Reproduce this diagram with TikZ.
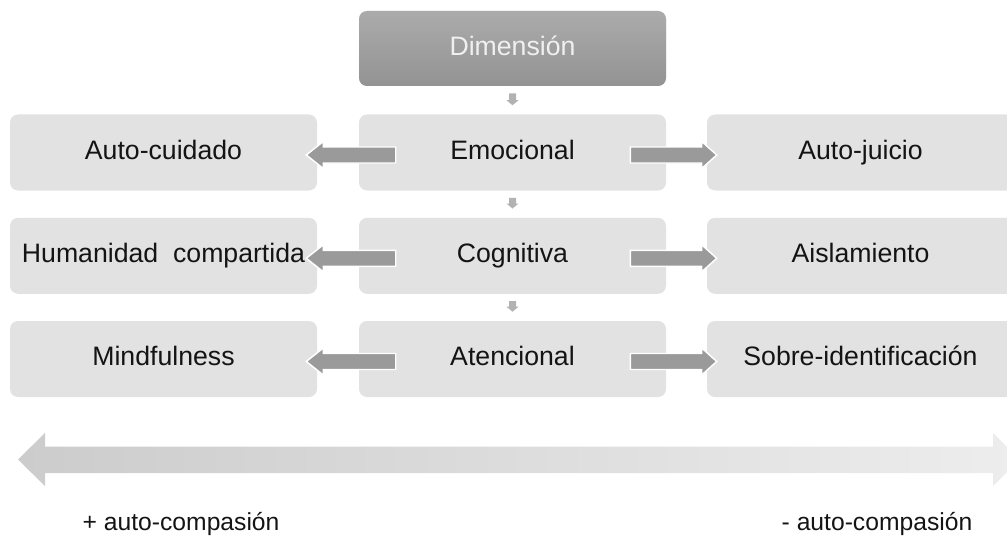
\documentclass[tikz,border=0pt]{standalone}
\usepackage{fontspec}
\setmainfont{Liberation Sans}
\usetikzlibrary{calc}
\definecolor{boxgray}{HTML}{E2E2E2}
\definecolor{headtop}{HTML}{ABABAB}
\definecolor{headbot}{HTML}{939393}
\definecolor{arrowgray}{HTML}{9A9A9A}
\definecolor{smallgray}{HTML}{B2B2B2}
\definecolor{textdark}{HTML}{141414}
\begin{document}
\begin{tikzpicture}[x=0.75pt,y=-0.75pt,
  cell/.style={fill=boxgray, rounded corners=6pt, minimum width=230.25pt,
    minimum height=57pt, inner sep=0pt, text=textdark,
    text height=14.6pt, text depth=4.2pt,
    font=\fontsize{20}{24}\selectfont},
  headcell/.style={cell, top color=headtop, bottom color=headbot,
    text=white!94!black, minimum height=56.25pt},
  sidearrow/.style={fill=arrowgray, draw=white, line width=1.1pt, line join=miter},
  downarrow/.style={fill=smallgray},
  scalelabel/.style={text=textdark, font=\fontsize{18.5}{22}\selectfont}]
\useasboundingbox (0,0) rectangle (1007,542);
\clip (0,0) rectangle (1007,542);

% header
\node[headcell] (head) at (512.5,48.5) {Dimensión};

% three rows: positive pole, dimension, negative pole
\node[cell] (l1) at (163.5,152.5) {Auto-cuidado};
\node[cell] (c1) at (512.5,152.5) {Emocional};
\node[cell] (r1) at (860.5,152.5) {Auto-juicio};
\node[cell] (l2) at (163.5,255.8) {Humanidad\ \ compartida};
\node[cell] (c2) at (512.5,255.8) {Cognitiva};
\node[cell] (r2) at (860.5,255.8) {Aislamiento};
\node[cell] (l3) at (163.5,359) {Mindfulness};
\node[cell] (c3) at (512.5,359) {Atencional};
\node[cell] (r3) at (860.5,359) {Sobre-identificación};

% small downward arrows between the central boxes
\foreach \a/\b in {head/c1, c1/c2, c2/c3}{
  \coordinate (dt) at ($(\a.south)+(0,7)$);
  \coordinate (dp) at ($(\b.north)+(0,-9)$);
  \path[downarrow] ($(dt)+(-3.5,0)$) -- ($(dp)+(-3.5,-5)$) -- ($(dp)+(-6,-5)$)
    -- (dp) -- ($(dp)+(6,-5)$) -- ($(dp)+(3.5,-5)$) -- ($(dt)+(3.5,0)$) -- cycle;
}

% block arrows from each dimension to its two poles
\foreach \r in {1,2,3}{
  % towards the left pole
  \coordinate (ta) at ($(c\r.west)+(37,2.5)$);
  \coordinate (tp) at ($(l\r.east)+(-11,2.5)$);
  \path[sidearrow] ($(ta)+(0,-8)$) -- ($(tp)+(17,-8)$) -- ($(tp)+(17,-13.5)$)
    -- (tp) -- ($(tp)+(17,13.5)$) -- ($(tp)+(17,8)$) -- ($(ta)+(0,8)$) -- cycle;
  % towards the right pole
  \coordinate (ua) at ($(c\r.east)+(-36,2.5)$);
  \coordinate (up) at ($(r\r.west)+(10,2.5)$);
  \path[sidearrow] ($(ua)+(0,-8)$) -- ($(up)+(-15,-8)$) -- ($(up)+(-15,-13.5)$)
    -- (up) -- ($(up)+(-15,13.5)$) -- ($(up)+(-15,8)$) -- ($(ua)+(0,8)$) -- cycle;
}

% graded scale arrow
\path[left color=black!20, right color=black!7]
  (18,459.5) -- (45,433) -- (45,446.5) -- (993,446.5) -- (993,433)
  -- (1020,459.5) -- (993,486) -- (993,473) -- (45,473) -- (45,486) -- cycle;

\node[scalelabel, anchor=west] (pos) at (78,524) {+ auto-compasión};
\node[scalelabel, anchor=east] (neg) at (977,524) {- auto-compasión};
\end{tikzpicture}
\end{document}
